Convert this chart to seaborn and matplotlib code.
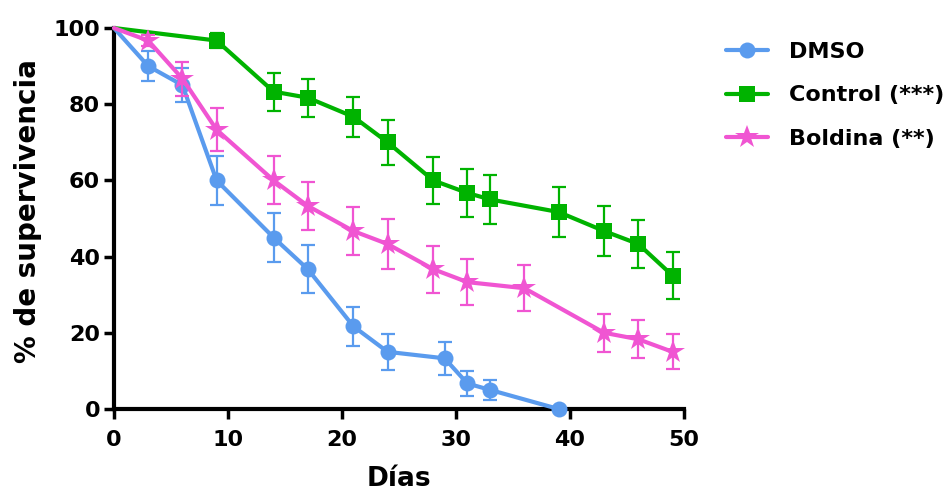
import matplotlib
matplotlib.use("Agg")
import matplotlib.pyplot as plt
import seaborn as sns
import pandas as pd

# ---- data ----
days_dmso = [0, 3, 6, 9, 14, 17, 21, 24, 29, 31, 33, 39]
dmso = [100, 90, 85, 60, 45, 36.7, 21.7, 15, 13.3, 6.7, 5, 0]
dmso_err = [0, 4, 4.5, 6.5, 6.5, 6.3, 5.2, 4.7, 4.3, 3.3, 2.7, 0]

days_ctrl = [0, 9, 14, 17, 21, 24, 28, 31, 33, 39, 43, 46, 49]
ctrl = [100, 96.7, 83.3, 81.7, 76.7, 70, 60, 56.7, 55, 51.7, 46.7, 43.3, 35]
ctrl_err = [0, 2, 5, 5, 5.3, 5.9, 6.2, 6.4, 6.4, 6.5, 6.5, 6.4, 6.2]

days_bold = [0, 3, 6, 9, 14, 17, 21, 24, 28, 31, 36, 43, 46, 49]
bold = [100, 96.7, 86.7, 73.3, 60, 53.3, 46.7, 43.3, 36.7, 33.3, 31.7, 20, 18.3, 15]
bold_err = [0, 1.5, 4.5, 5.6, 6.3, 6.4, 6.4, 6.5, 6.2, 6.1, 6.0, 5.0, 5.0, 4.6]

labels = ["DMSO", "Control (***)", "Boldina (**)"]
x_ticks = [0, 10, 20, 30, 40, 50]
y_ticks = [0, 20, 40, 60, 80, 100]

# ---- style ----
sns.set_theme(style="ticks")
plt.rcParams['font.family'] = ['DejaVu Sans']
plt.rcParams['font.weight'] = 'bold'
plt.rcParams['text.color'] = 'black'
plt.rcParams['axes.labelcolor'] = 'black'

fig = plt.figure(figsize=(9.52, 4.93), dpi=100)
ax = fig.add_axes([114/952, 1-409/493, (684-114)/952, (409-28)/493])

series = [
    (days_dmso, dmso, dmso_err, "#5A9BEE", "o", 11.5, labels[0]),
    (days_ctrl, ctrl, ctrl_err, "#00B300", "s", 11, labels[1]),
    (days_bold, bold, bold_err, "#F055D2", "*", 17.5, labels[2]),
]

for i, (d, v, e, c, m, ms, lab) in enumerate(series):
    df = pd.DataFrame({"Días": d, "val": v})
    sns.lineplot(data=df, x="Días", y="val", color=c, marker=m, markersize=ms,
                 markeredgewidth=0, lw=3, markevery=list(range(1, len(d))),
                 label=lab, ax=ax, clip_on=False, zorder=3 + i)
    ax.errorbar(d[1:], v[1:], yerr=e[1:], fmt="none", ecolor=c, elinewidth=1.6,
                capsize=5, capthick=1.6, zorder=2 + i, clip_on=False)

ax.set_xlim(0, 50)
ax.set_ylim(0, 100)
ax.set_xticks(x_ticks)
ax.set_yticks(y_ticks)
ax.tick_params(axis="both", width=2.5, length=7, labelsize=16, color="black",
               labelcolor="black")
ax.tick_params(axis="x", pad=8)
ax.tick_params(axis="y", pad=3)
for lab in ax.get_xticklabels() + ax.get_yticklabels():
    lab.set_fontweight("bold")
for s in ["left", "bottom"]:
    ax.spines[s].set_linewidth(3)
    ax.spines[s].set_color("black")
sns.despine(ax=ax)

ax.set_xlabel("Días", fontsize=19, fontweight="bold", labelpad=12, color="black")
ax.set_ylabel("% de supervivencia", fontsize=20, fontweight="bold", labelpad=8,
              color="black")
ax.yaxis.label.set_y(0.52)

h, l = ax.get_legend_handles_labels()
ax.get_legend().remove()
fig.legend(h, l, loc="upper left", bbox_to_anchor=(726/952, 1-42/493),
           frameon=False, prop={"weight": "bold", "size": 16},
           handlelength=1.9, handletextpad=0.95, labelspacing=1.05,
           borderpad=0, borderaxespad=0, labelcolor="black")

fig.savefig("out.png", dpi=100, facecolor="white")
